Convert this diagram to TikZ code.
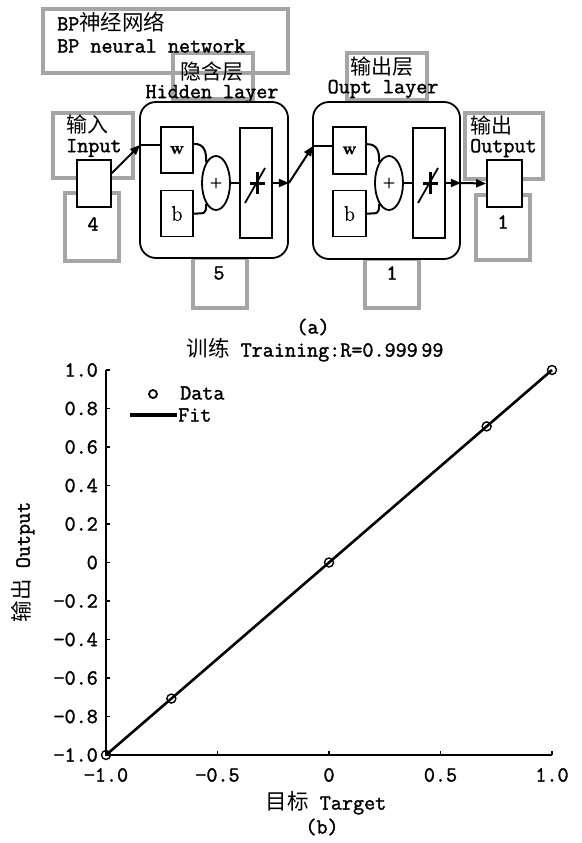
\documentclass[tikz,border=0pt]{standalone}
\usepackage{fontspec}
\setmonofont{Latin Modern Mono}[RawFeature={embolden=1.6}]
\newfontfamily\cjk{Noto Sans CJK SC}
\newfontfamily\rmbold{Latin Modern Roman}[RawFeature={embolden=1.5}]
\usetikzlibrary{arrows.meta,shapes.geometric}
\definecolor{gframecol}{RGB}{165,165,165}
\begin{document}
\begin{tikzpicture}[x=1pt,y=-1pt,
  txt/.style={font=\ttfamily\fontsize{21.5}{23}\selectfont,inner sep=0pt},
  cjktxt/.style={font=\cjk\fontsize{21}{23}\selectfont,inner sep=0pt,text height=16pt,text depth=1pt},
  gframe/.style={draw=gframecol,line width=4.5pt},
  blk/.style={draw=black,fill=white,line width=1.8pt,inner sep=0pt},
  conn/.style={line width=2pt},
  arr/.style={line width=2pt,-{Triangle[length=10pt,width=8pt]}},
  axisline/.style={line width=1.8pt},
]
\fill[white] (0,0) rectangle (581,843);
\useasboundingbox (0,0) rectangle (581,843);

% gray frames
\draw[gframe] (43,9) rectangle (288,73);
\draw[gframe] (173,53) rectangle (253,99);
\draw[gframe] (347,53) rectangle (427,100);
\draw[gframe] (53,113) rectangle (133,178);
\draw[gframe] (65,193) rectangle (119,261);
\draw[gframe] (193,258) rectangle (247,308);
\draw[gframe] (365,259) rectangle (419,308);
\draw[gframe] (465,113) rectangle (543,179);
\draw[gframe] (476,195) rectangle (530,260);

% black blocks
\node[blk,rounded corners=16pt,minimum width=148pt,minimum height=156pt] (hid) at (214,180) {};
\node[blk,rounded corners=16pt,minimum width=147pt,minimum height=157pt] (out) at (386.5,180.5) {};
\node[blk,minimum width=34pt,minimum height=47pt] (inbox) at (94,183.5) {};
\node[blk,minimum width=35pt,minimum height=47pt] (obox) at (504.5,183.5) {};

\node[blk,minimum width=32pt,minimum height=46pt,font=\rmbold\bfseries\fontsize{17}{19}\selectfont] (w1) at (177,150) {w};
\node[blk,minimum width=32pt,minimum height=46pt,font=\rmbold\fontsize{21}{23}\selectfont] (b1) at (177,213.5) {b};
\node[blk,ellipse,minimum width=28pt,minimum height=54pt,font=\rmbold\fontsize{17}{19}\selectfont] (e1) at (216,183) {+};
\node[blk,minimum width=32pt,minimum height=110pt] (t1) at (256,183) {};

\node[blk,minimum width=33pt,minimum height=47pt,font=\rmbold\bfseries\fontsize{17}{19}\selectfont] (w2) at (349.5,150.5) {w};
\node[blk,minimum width=33pt,minimum height=46pt,font=\rmbold\fontsize{21}{23}\selectfont] (b2) at (349.5,213.5) {b};
\node[blk,ellipse,minimum width=28pt,minimum height=54pt,font=\rmbold\fontsize{17}{19}\selectfont] (e2) at (389,183) {+};
\node[blk,minimum width=32pt,minimum height=110pt] (t2) at (429,183) {};

% transfer function symbols
\foreach \t in {t1,t2} {
  \draw[line width=1.8pt,shift={(\t.center)}] (-11,20) -- (9,-15);
  \draw[line width=3pt,shift={(\t.center)}] (-6,0) -- (9,0) (1,-11) -- (1,11);
}

% connectors
\coordinate (hin) at (140,145);
\draw[arr] (inbox.30) -- (hin);
\draw[conn] (hin) -- (w1.west |- hin);
\draw[conn] (w1.20) .. controls +(11,0) and +(0,-10) .. (e1.115);
\draw[conn] (b1.east) .. controls +(11,0) and +(0,10) .. (e1.-115);
\draw[conn] (e1.east) -- (t1.west);
\draw[arr] (t1.east) -- (hid.east |- t1.east);
\coordinate (oin) at (313,146);
\draw[arr] (hid.east |- t1.east) -- (oin);
\draw[conn] (oin) -- (w2.west |- oin);
\draw[conn] (w2.20) .. controls +(11,0) and +(0,-10) .. (e2.115);
\draw[conn] (b2.east) .. controls +(11,0) and +(0,10) .. (e2.-115);
\draw[conn] (e2.east) -- (t2.west);
\draw[arr] (t2.east) -- (out.east |- t2.east);
\draw[arr] (out.east |- t2.east) -- (obox.west);

% texts of panel (a)
\node[txt,anchor=west,text height=16pt,text depth=1pt] (bpt1) at (57,23) {BP{\cjk 神经网络}};
\node[txt,anchor=west] (bpt2) at (57,46) {BP neural network};
\node[cjktxt] (hl1) at (212,72) {隐含层};
\node[txt] (hl2) at (212,94) {Hidden layer};
\node[cjktxt] (ol1) at (382,67) {输出层};
\node[txt] (ol2) at (383,89) {Oupt layer};
\node[cjktxt,anchor=west] (it1) at (66,125) {输入};
\node[txt,anchor=west] (it2) at (66,148) {Input};
\node[cjktxt,anchor=west] (ot1) at (470,126) {输出};
\node[txt,anchor=west] (ot2) at (470,148) {Output};
\node[txt] (n4) at (93,224) {4};
\node[txt] (n5) at (219,273) {5};
\node[txt] (n1a) at (392,273) {1};
\node[txt] (n1b) at (503,222) {1};
\node[txt] (capa) at (313,327) {(a)};

% panel (b): plot
\node[txt] (title) at (315,350) {{\cjk 训练} Training:R=0.999\,99};
\draw[axisline] (106,370) -- (106,755) -- (552,755);
\foreach \v/\l in {1/1.0,0.8/0.8,0.6/0.6,0.4/0.4,0.2/0.2,0/0,-0.2/−0.2,-0.4/−0.4,-0.6/−0.6,-0.8/−0.8,-1/−1.0} {
  \draw[axisline] (106,{562.5-192.5*(\v)}) -- (110,{562.5-192.5*(\v)});
  \node[txt,anchor=east] at (98,{562.5-192.5*(\v)}) {\l};
}
\foreach \v/\l in {-1/−1.0,-0.5/−0.5,0/0,0.5/0.5,1/1.0} {
  \draw[axisline] ({329+223*(\v)},755) -- ({329+223*(\v)},751);
  \node[txt] at ({329+223*(\v)},775) {\l};
}
\draw[line width=2.6pt] (106,755) -- (552,370);
\foreach \v in {-1,-0.707,0,0.707,1} {
  \draw[line width=1.4pt] ({329+223*(\v)},{562.5-192.5*(\v)}) circle[radius=4.5pt];
}
% legend
\draw[line width=1.8pt] (153,394) circle[radius=4pt];
\node[txt,anchor=west] (ldata) at (180,393) {Data};
\draw[line width=3.5pt] (130,415) -- (177,415);
\node[txt,anchor=west] (lfit) at (178,415) {Fit};

\node[txt,rotate=90] (ylab) at (23,562) {{\cjk 输出} Output};
\node[txt] (xlab) at (326,803) {{\cjk 目标} Target};
\node[txt] (capb) at (322,827) {(b)};
\end{tikzpicture}
\end{document}
